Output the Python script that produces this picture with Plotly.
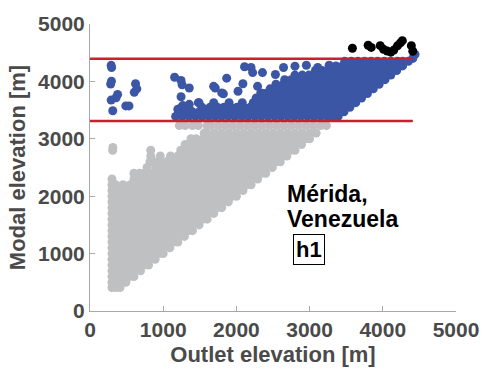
import plotly.graph_objects as go

# ---- elevation thresholds (m) drawn as horizontal reference lines ----
lower_threshold = 3310
upper_threshold = 4395
threshold_x_end = 4410

# ---- catchments below the lower threshold (grey), stored row by row ----
gray_row_modal = [410, 500, 600, 700, 800, 900, 1000, 1100, 1200, 1300, 1400, 1500,
                  1600, 1700, 1800, 1900, 2000, 2100, 2200, 2300, 2400, 2500, 2600,
                  2700, 2800, 2900, 3000, 3100, 3230]
gray_row_outlets = [
    [300, 355, 410],
    [300, 400, 490],
    [300, 350, 450, 540, 600],
    [300, 400, 500, 600, 690],
    [300, 350, 450, 550, 650, 740, 800],
    [300, 400, 500, 600, 700, 800, 890],
    [300, 350, 450, 550, 650, 750, 850, 940, 1000],
    [300, 400, 500, 600, 700, 800, 900, 1000, 1090],
    [300, 350, 450, 550, 650, 750, 850, 950, 1050, 1140, 1200],
    [300, 400, 500, 600, 700, 800, 900, 1000, 1100, 1200, 1290],
    [300, 350, 450, 550, 650, 750, 850, 950, 1050, 1150, 1250, 1340, 1400],
    [300, 400, 500, 600, 700, 800, 900, 1000, 1100, 1200, 1300, 1400, 1490],
    [300, 350, 450, 550, 650, 750, 850, 950, 1050, 1150, 1250, 1350, 1450, 1540, 1600],
    [300, 400, 500, 600, 700, 800, 900, 1000, 1100, 1200, 1300, 1400, 1500, 1600, 1690],
    [300, 350, 450, 550, 650, 750, 850, 950, 1050, 1150, 1250, 1350, 1450, 1550, 1650,
     1740, 1800],
    [300, 400, 500, 600, 700, 800, 900, 1000, 1100, 1200, 1300, 1400, 1500, 1600, 1700,
     1800, 1890],
    [300, 350, 450, 550, 650, 750, 850, 950, 1050, 1150, 1250, 1350, 1450, 1550, 1650,
     1750, 1850, 1940, 2000],
    [300, 400, 500, 600, 700, 800, 900, 1000, 1100, 1200, 1300, 1400, 1500, 1600, 1700,
     1800, 1900, 2000, 2090],
    [300, 350, 450, 550, 650, 750, 850, 950, 1050, 1150, 1250, 1350, 1450, 1550, 1650,
     1750, 1850, 1950, 2050, 2140, 2200],
    [300, 600, 700, 800, 900, 1000, 1100, 1200, 1300, 1400, 1500, 1600, 1700, 1800, 1900,
     2000, 2100, 2200, 2290],
    [600, 680, 750, 850, 950, 1050, 1150, 1250, 1350, 1450, 1550, 1650, 1750, 1850, 1950,
     2050, 2150, 2250, 2340, 2400],
    [780, 900, 1000, 1100, 1200, 1300, 1400, 1500, 1600, 1700, 1800, 1900, 2000, 2100,
     2200, 2300, 2400, 2490],
    [820, 870, 950, 1050, 1150, 1250, 1350, 1450, 1550, 1650, 1750, 1850, 1950, 2050,
     2150, 2250, 2350, 2450, 2540, 2600],
    [830, 960, 1100, 1200, 1300, 1400, 1500, 1600, 1700, 1800, 1900, 2000, 2100, 2200,
     2300, 2400, 2500, 2600, 2690],
    [830, 1240, 1350, 1450, 1550, 1650, 1750, 1850, 1950, 2050, 2150, 2250, 2350, 2450,
     2550, 2650, 2740, 2800],
    [1300, 1400, 1500, 1600, 1700, 1800, 1900, 2000, 2100, 2200, 2300, 2400, 2500, 2600,
     2700, 2800, 2890],
    [1380, 1450, 1550, 1650, 1750, 1850, 1950, 2050, 2150, 2250, 2350, 2450, 2550, 2650,
     2750, 2850, 2940, 3000],
    [1560, 1600, 1700, 1800, 1900, 2000, 2100, 2200, 2300, 2400, 2500, 2600, 2700, 2800,
     2900, 3000, 3090],
    [1220, 1300, 1400, 1480, 1600, 1650, 1750, 1850, 1950, 2050, 2150, 2250, 2350, 2450,
     2550, 2650, 2750, 2850, 2950, 3050, 3150, 3230],
]
gray_extra_outlet = [310, 312]
gray_extra_modal = [2800, 2850]

# ---- catchments between the thresholds (blue), stored row by row ----
blue_row_modal = [3390, 3470, 3550, 3630, 3710, 3790, 3870, 3950, 4030, 4110, 4190,
                  4270, 4350]
blue_row_outlets = [
    [1170, 1260, 1350, 1440, 1530, 1620, 1710, 1800, 1890, 1980, 2070, 2160, 2250, 2340,
     2430, 2520, 2610, 2700, 2790, 2880, 2970, 3060, 3150, 3240, 3320, 3390],
    [1210, 1300, 1400, 1490, 1580, 1670, 1760, 1850, 1940, 2030, 2120, 2210, 2300, 2390,
     2480, 2570, 2660, 2750, 2840, 2930, 3020, 3110, 3200, 3290, 3380, 3470],
    [1250, 1350, 1530, 1640, 1740, 1830, 1920, 2010, 2100, 2190, 2280, 2370, 2460, 2550,
     2640, 2730, 2820, 2910, 3000, 3090, 3180, 3270, 3360, 3450, 3550],
    [1480, 1690, 1900, 2080, 2230, 2330, 2420, 2510, 2600, 2690, 2780, 2870, 2960, 3050,
     3140, 3230, 3320, 3410, 3500, 3570, 3630],
    [2270, 2360, 2450, 2540, 2630, 2720, 2810, 2900, 2990, 3080, 3170, 3260, 3350, 3440,
     3530, 3620, 3710],
    [2380, 2470, 2560, 2650, 2740, 2830, 2920, 3010, 3100, 3190, 3280, 3370, 3460, 3550,
     3640, 3720, 3790],
    [2460, 2540, 2630, 2720, 2810, 2900, 2990, 3080, 3170, 3260, 3350, 3440, 3530, 3620,
     3710, 3800, 3870],
    [2540, 2640, 2730, 2820, 2910, 3000, 3090, 3180, 3270, 3360, 3450, 3540, 3630, 3720,
     3810, 3880, 3950],
    [2660, 2750, 2840, 2930, 3020, 3110, 3200, 3290, 3380, 3470, 3560, 3650, 3740, 3830,
     3920, 3970, 4030],
    [2800, 2900, 2990, 3080, 3170, 3260, 3350, 3440, 3530, 3620, 3710, 3800, 3890, 3980,
     4050, 4110],
    [3080, 3170, 3260, 3350, 3440, 3530, 3620, 3710, 3800, 3890, 3980, 4070, 4130, 4190],
    [3270, 3360, 3450, 3540, 3630, 3720, 3810, 3900, 3990, 4080, 4160, 4220, 4270],
    [3480, 3570, 3660, 3750, 3840, 3930, 4020, 4110, 4200, 4270, 4350],
]
blue_extra_outlet = [289, 295, 293, 282, 622, 640, 605, 377, 356, 289, 489, 533, 311,
                     1156, 1244, 1258, 1356, 1244, 1711, 1689, 1867, 1822, 1800, 2022,
                     2089, 2111, 2200, 2222, 2289, 2333, 2356, 2533, 2644, 2800, 2956,
                     3111, 3267, 1200, 1267, 1356, 1489, 4410, 4440]
blue_extra_modal = [4280, 4240, 4004, 3953, 3960, 3870, 3810, 3771, 3715, 3675, 3573,
                    3573, 3488, 4073, 4016, 3942, 3885, 3732, 3885, 3914, 4056, 3783,
                    3800, 3829, 3959, 4255, 4243, 4153, 3914, 3800, 4153, 4120, 4243,
                    4265, 4282, 4243, 4282, 3515, 3578, 3600, 3630, 4400, 4470]

# ---- catchments above the upper threshold (black) ----
black_outlet = [3585, 3800, 3842, 3965, 4010, 4060, 4110, 4150, 4200, 4240, 4267,
                4390, 4410]
black_modal = [4578, 4630, 4592, 4623, 4558, 4530, 4510, 4545, 4620, 4670, 4710,
               4623, 4525]

x_ticks = [0, 1000, 2000, 3000, 4000, 5000]
y_ticks = [0, 1000, 2000, 3000, 4000, 5000]


def flatten(row_values, row_lists):
    xs, ys = [], []
    for y, row in zip(row_values, row_lists):
        xs.extend(row)
        ys.extend([y] * len(row))
    return xs, ys


gray_x, gray_y = flatten(gray_row_modal, gray_row_outlets)
gray_x += gray_extra_outlet
gray_y += gray_extra_modal
blue_x, blue_y = flatten(blue_row_modal, blue_row_outlets)
blue_x += blue_extra_outlet
blue_y += blue_extra_modal

GRAY = "#bfc0c2"
BLUE = "#3c56a6"
RED = "#c8202e"
AXIS_TEXT = "#4a4a4a"
FONT = "Liberation Sans, Arial, Helvetica, sans-serif"
MS = 9

fig = go.Figure()
fig.add_trace(go.Scatter(x=gray_x, y=gray_y, mode="markers",
                         marker=dict(size=MS, color=GRAY, line=dict(width=0))))
fig.add_trace(go.Scatter(x=blue_x, y=blue_y, mode="markers",
                         marker=dict(size=MS, color=BLUE, line=dict(width=0))))
fig.add_trace(go.Scatter(x=black_outlet, y=black_modal, mode="markers",
                         marker=dict(size=MS, color="black", line=dict(width=0))))
for level in (upper_threshold, lower_threshold):
    fig.add_trace(go.Scatter(x=[0, threshold_x_end], y=[level, level], mode="lines",
                             line=dict(color=RED, width=2.5)))

axis_common = dict(
    showgrid=False, zeroline=False, showline=True, linecolor="#a8a8a8", linewidth=1,
    ticks="inside", ticklen=5, tickcolor="#a8a8a8", tickwidth=1,
    tickfont=dict(family=FONT, size=21, color=AXIS_TEXT, weight="bold"),
    range=[0, 5000],
)

fig.update_layout(
    width=491, height=375,
    margin=dict(l=90, r=26, t=20, b=62),
    paper_bgcolor="white", plot_bgcolor="white",
    showlegend=False,
    xaxis=dict(**axis_common, tickvals=x_ticks,
               title=dict(text="Outlet elevation [m]", standoff=6,
                          font=dict(family=FONT, size=22, color=AXIS_TEXT, weight="bold"))),
    yaxis=dict(**axis_common, tickvals=y_ticks,
               title=dict(text="Modal elevation [m]", standoff=6,
                          font=dict(family=FONT, size=22, color=AXIS_TEXT, weight="bold"))),
)

fig.add_annotation(x=2670, y=2030, xref="x", yref="y", text="Mérida,",
                   showarrow=False, xanchor="left", yanchor="middle",
                   font=dict(family=FONT, size=23, color="black", weight="bold"))
fig.add_annotation(x=2670, y=1600, xref="x", yref="y", text="Venezuela",
                   showarrow=False, xanchor="left", yanchor="middle",
                   font=dict(family=FONT, size=23, color="black", weight="bold"))
fig.add_annotation(x=2775, y=1080, xref="x", yref="y", text="h1",
                   showarrow=False, xanchor="left", yanchor="middle",
                   bordercolor="black", borderwidth=1, borderpad=2,
                   font=dict(family=FONT, size=22, color="black", weight="bold"))

fig.write_html("out.html")
